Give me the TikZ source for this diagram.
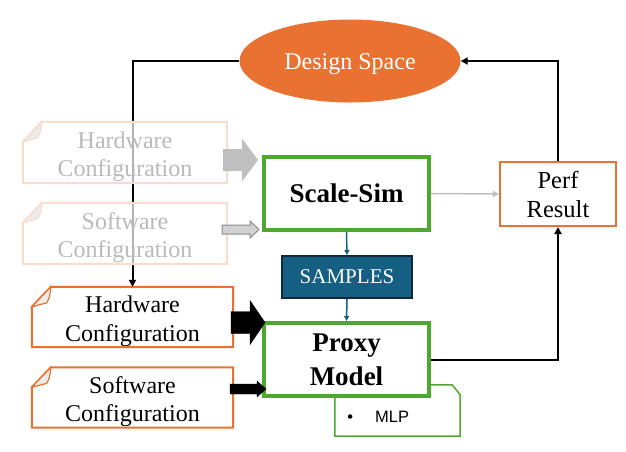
\documentclass[tikz,border=0pt]{standalone}
\usepackage{fontspec}
\setmainfont{Liberation Serif}
\setsansfont{Liberation Sans}
\usepackage{xcolor}
\usepackage{tikz}
\usetikzlibrary{positioning,arrows.meta,shapes.geometric}

\definecolor{dsorange}{HTML}{E97132}
\definecolor{simgreen}{HTML}{4EA72E}
\definecolor{smpblue}{HTML}{156082}
\definecolor{smpdark}{HTML}{0E2841}

% outline with the folded top-left corner
\newcommand{\foldframe}[2]{%
  \draw[#2, line width=2pt] ([xshift=19pt]#1.north west) -- (#1.north east) -- (#1.south east)
    -- (#1.south west) -- ([yshift=-20pt]#1.north west) -- cycle;
  \draw[#2, line width=1.2pt, fill=black!8] ([yshift=-20pt]#1.north west)
    -- ([xshift=15pt,yshift=-16pt]#1.north west)
    .. controls ([xshift=18pt,yshift=-10pt]#1.north west) .. ([xshift=19pt]#1.north west) -- cycle;
}
% block arrow: style, start x, head x, tip x, y, half shaft, half head
\newcommand{\blockarrow}[7]{%
  \filldraw[#1] (#2,#5-#6) -- (#3,#5-#6) -- (#3,#5-#7) -- (#4,#5) -- (#3,#5+#7)
    -- (#3,#5+#6) -- (#2,#5+#6) -- cycle;
}
\newcommand{\cfgtop}{\rule{0pt}{25pt}}

\begin{document}
\begin{tikzpicture}[x=1pt,y=-1pt,
  cfg/.style={minimum width=201pt, minimum height=60pt, inner sep=0pt, align=center,
    fill=white, font=\fontsize{24}{28.5}\selectfont},
  cfgold/.style={cfg, minimum width=204pt, minimum height=61pt, fill opacity=0.7,
    text opacity=1, text=black!27},
  simbox/.style={draw=simgreen, line width=4pt, fill=white, minimum width=165pt,
    minimum height=73pt, inner sep=0pt, align=center, font=\bfseries\fontsize{27}{34}\selectfont},
  link/.style={line width=2pt, -{Triangle[length=7pt,width=7pt]}},
  smplink/.style={line width=1.5pt, smpblue, -{Triangle[length=5pt,width=5pt]}}]

  \useasboundingbox (0,0) rectangle (626,451);

  \node[ellipse, fill=dsorange, minimum width=221pt, minimum height=83pt, inner sep=0pt,
    text height=22pt, text depth=5pt,
    text=white, font=\fontsize{24}{28}\selectfont] (ds) at (350,61) {Design Space};

  \node[cfg] (hw) at (132.5,317) {\cfgtop Hardware\\Configuration};
  \foldframe{hw}{dsorange}
  \node[cfg] (sw) at (132.5,397.5) {\cfgtop Software\\Configuration};
  \foldframe{sw}{dsorange}

  \draw[link] (ds.west) -| (hw.north);

  \node[cfgold] (hwold) at (125,152.5) {\cfgtop Hardware\\Configuration};
  \foldframe{hwold}{dsorange!25}
  \node[cfgold] (swold) at (125,233.5) {\cfgtop Software\\Configuration};
  \foldframe{swold}{dsorange!25}

  \node[minimum width=125pt, minimum height=51pt, inner sep=0pt] (mlp) at (397.5,410.5) {};
  \draw[simgreen, line width=1.5pt] (mlp.north west) -- ([xshift=-8pt]mlp.north east)
    -- ([yshift=-10pt]mlp.north east) -- (mlp.south east) -- (mlp.south west) -- cycle;
  \node[anchor=west, font=\sffamily\fontsize{16.5}{19}\selectfont] (mlplabel)
    at ([xshift=9pt,yshift=-6pt]mlp.west) {\textbullet\hspace{22pt}MLP};

  \node[simbox] (scale) at (346.5,193.5) {Scale-Sim};
  \node[simbox] (proxy) at (346.5,359.5) {Proxy\\Model};

  \node[draw=smpdark, line width=2pt, fill=smpblue, minimum width=130pt, minimum height=42pt,
    inner sep=0pt, text=white, font=\fontsize{21}{24}\selectfont] (samples) at (347,277) {SAMPLES};

  \node[draw=dsorange, line width=2pt, minimum width=116pt, minimum height=64pt, inner sep=0pt,
    align=center, font=\fontsize{24.5}{29}\selectfont] (perf) at (558,194) {Perf\\Result};

  \blockarrow{black!25, draw=none}{223}{242}{258}{160}{11}{21.5}
  \blockarrow{fill=black!18, draw=black!45, line width=1pt}{222}{250}{259}{229.5}{4.5}{8.5}
  \blockarrow{black}{231}{250}{265}{322.5}{11}{22}
  \blockarrow{black}{230}{257}{266}{389}{5}{8}

  \draw[smplink] (scale.south) -- (samples.north);
  \draw[smplink] (samples.south) -- (proxy.north);
  \draw[line width=1.5pt, black!25, -{Triangle[length=6pt,width=6pt]}] (scale.east) -- (perf.west);
  \draw[link] (proxy.east) -| (perf.south);
  \draw[link] (perf.north) |- (ds.east);
\end{tikzpicture}
\end{document}
